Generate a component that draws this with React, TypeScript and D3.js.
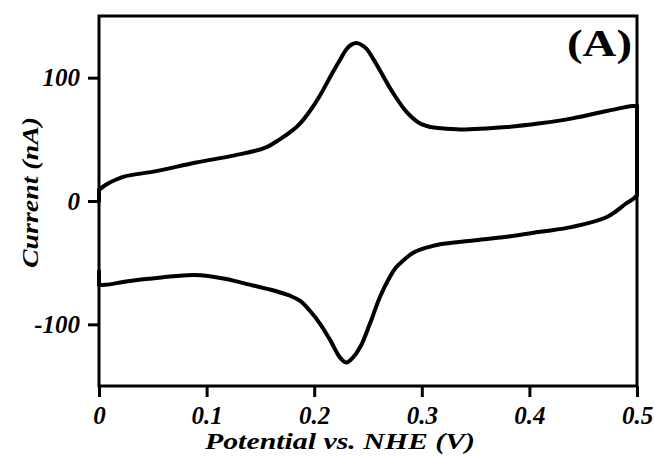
import React, { useRef, useEffect } from "react";
import { select, scaleLinear, axisBottom, axisLeft, line, curveCatmullRom, curveLinear } from "d3";

// anodic (forward) sweep, 0 -> 0.5 V
const fwdPotential = [0, 0.006, 0.015, 0.024, 0.052, 0.089, 0.126, 0.154, 0.168, 0.178, 0.187, 0.196, 0.205, 0.217, 0.225, 0.23, 0.235, 0.24, 0.245, 0.249, 0.255, 0.261, 0.273, 0.286, 0.298, 0.308, 0.317, 0.336, 0.379, 0.41, 0.44, 0.472, 0.496, 0.5];
const fwdCurrent = [9, 13, 17, 20, 24, 31, 37, 43, 50, 56, 63, 73, 85, 104, 116, 123, 127, 128, 126, 123, 115, 106, 88, 72, 63, 60, 59, 58, 60, 63, 67, 73, 77, 77];

// cathodic (reverse) sweep, 0.5 -> 0 V
const revPotential = [0.5, 0.497, 0.49, 0.472, 0.44, 0.41, 0.379, 0.348, 0.317, 0.308, 0.3, 0.292, 0.283, 0.276, 0.27, 0.261, 0.252, 0.243, 0.236, 0.23, 0.224, 0.215, 0.205, 0.196, 0.187, 0.178, 0.164, 0.136, 0.117, 0.089, 0.058, 0.027, 0.006, 0];
const revCurrent = [5, 2, -2, -13, -21, -25, -29, -32, -35, -37, -39, -42, -48, -54, -62, -78, -99, -118, -127, -131, -127, -113, -99, -89, -81, -77, -73, -67, -63, -60, -62, -65, -68, -68];

// short vertical pieces at the switching potentials
const startStep = [[0, 0], [0, 9]];
const switchStep = [[0.5, 77], [0.5, 5]];
const endStep = [[0, -68], [0, -57]];

const xTicks = [0, 0.1, 0.2, 0.3, 0.4, 0.5];
const yTicks = [-100, 0, 100];

const FONT = "Liberation Serif";

const App = () => {
  const ref = useRef<SVGSVGElement>(null);
  const width = 654;
  const height = 458;
  const margin = { left: 99, top: 16, right: 17, bottom: 72 };

  useEffect(() => {
    const svg = select(ref.current);
    svg.selectAll("*").remove();

    const innerWidth = width - margin.left - margin.right;
    const innerHeight = height - margin.top - margin.bottom;

    const xScale = scaleLinear().domain([0, 0.5]).range([0, innerWidth]);
    const yScale = scaleLinear().domain([-150, 150]).range([innerHeight, 0]);

    const g = svg.append("g").attr("transform", `translate(${margin.left}, ${margin.top})`);

    // frame
    g.append("rect")
      .attr("width", innerWidth)
      .attr("height", innerHeight)
      .attr("fill", "none")
      .attr("stroke", "#000")
      .attr("stroke-width", 3);

    const xAxis = axisBottom(xScale)
      .tickValues(xTicks)
      .tickSize(11)
      .tickFormat((d) => (d === 0 ? "0" : String(d)));
    const yAxis = axisLeft(yScale)
      .tickValues(yTicks)
      .tickSize(11)
      .tickFormat((d) => String(d));

    const gx = g.append("g").attr("transform", `translate(0, ${innerHeight})`).call(xAxis);
    const gy = g.append("g").call(yAxis);

    [gx, gy].forEach((ax) => {
      ax.attr("font-family", FONT).attr("font-size", 25);
      ax.select(".domain").remove();
      ax.selectAll(".tick line").attr("stroke", "#000").attr("stroke-width", 3);
      ax.selectAll(".tick text")
        .attr("fill", "#000")
        .attr("font-weight", "bold")
        .attr("font-style", "italic");
    });
    gx.selectAll(".tick text").attr("y", 20);
    gy.selectAll(".tick text").attr("x", -19);

    // CV trace
    const smooth = line<number[]>()
      .x((d) => xScale(d[0]))
      .y((d) => yScale(d[1]))
      .curve(curveCatmullRom.alpha(0.5));
    const straight = line<number[]>()
      .x((d) => xScale(d[0]))
      .y((d) => yScale(d[1]))
      .curve(curveLinear);

    const fwd = fwdPotential.map((p, i) => [p, fwdCurrent[i]]);
    const rev = revPotential.map((p, i) => [p, revCurrent[i]]);

    [
      { data: startStep, gen: straight },
      { data: fwd, gen: smooth },
      { data: switchStep, gen: straight },
      { data: rev, gen: smooth },
      { data: endStep, gen: straight },
    ].forEach(({ data, gen }) => {
      g.append("path")
        .datum(data)
        .attr("fill", "none")
        .attr("stroke", "#000")
        .attr("stroke-width", 4)
        .attr("stroke-linejoin", "round")
        .attr("stroke-linecap", "round")
        .attr("d", gen);
    });

    // X-axis label
    svg.append("text")
      .attr("font-family", FONT)
      .attr("font-size", 23)
      .attr("font-weight", "bold")
      .attr("font-style", "italic")
      .attr("fill", "#000")
      .attr("x", 205)
      .attr("y", 449)
      .attr("textLength", 270)
      .attr("lengthAdjust", "spacingAndGlyphs")
      .text("Potential vs. NHE (V)");

    // Y-axis label
    svg.append("text")
      .attr("font-family", FONT)
      .attr("font-size", 24)
      .attr("font-weight", "bold")
      .attr("font-style", "italic")
      .attr("fill", "#000")
      .attr("transform", "translate(38, 268) rotate(-90)")
      .attr("textLength", 151)
      .attr("lengthAdjust", "spacingAndGlyphs")
      .text("Current (nA)");

    // panel label
    svg.append("text")
      .attr("font-family", FONT)
      .attr("font-size", 38)
      .attr("font-weight", "bold")
      .attr("fill", "#000")
      .attr("x", 567)
      .attr("y", 56)
      .attr("textLength", 65)
      .attr("lengthAdjust", "spacingAndGlyphs")
      .text("(A)");
  }, []);

  return (
    <svg
      ref={ref}
      width={width}
      height={height}
      style={{ position: "absolute", left: 0, top: 0, background: "#fff" }}
    />
  );
};

export default App;
